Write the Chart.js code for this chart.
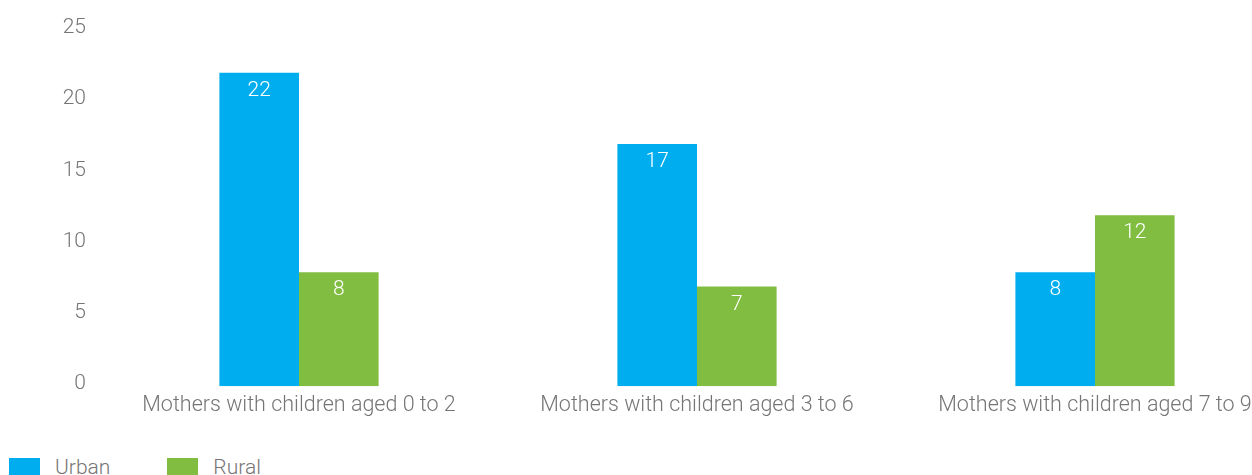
<!DOCTYPE html>
<html>
<head>
<meta charset="utf-8">
<script src="https://cdn.jsdelivr.net/npm/chart.js@4"></script>
<style>
    html, body { margin: 0; padding: 0; background: #fff; }
    #wrap { position: relative; width: 1252px; height: 475px; overflow: hidden; }
    #box { position: absolute; left: 0; top: 0; width: 1294px; height: 426px; }
    #legend { position: absolute; left: 9px; top: 457px; display: flex; font-family: Roboto, sans-serif; font-weight: 300; font-size: 21px; color: #757575; }
    #legend .item { display: flex; align-items: flex-start; margin-right: 57px; }
    #legend .swatch { width: 31px; height: 18px; margin-right: 15px; margin-top: 1px; }
    #legend .label { line-height: 20px; }
</style>
</head>
<body>
<div id="wrap">
    <div id="box"><canvas id="mainChart"></canvas></div>
    <div id="legend"></div>
</div>
<script>
// Chart data
const categories = [
    'Mothers with children aged 0 to 2',
    'Mothers with children aged 3 to 6',
    'Mothers with children aged 7 to 9'
];
const urbanValues = [22, 17, 8];
const ruralValues = [8, 7, 12];
const yTicks = [0, 5, 10, 15, 20, 25];

const BLUE = '#00AEEF';
const GREEN = '#80BD41';
const GREY = '#757575';

// draws the value inside the top of each bar
const barValues = {
    id: 'barValues',
    afterDatasetsDraw(chart) {
        const ctx = chart.ctx;
        ctx.save();
        ctx.fillStyle = '#fff';
        ctx.font = '300 21px Roboto';
        ctx.textAlign = 'center';
        ctx.textBaseline = 'middle';
        chart.data.datasets.forEach((ds, i) => {
            chart.getDatasetMeta(i).data.forEach((bar, j) => {
                ctx.fillText(String(ds.data[j]), bar.x, bar.y + 18);
            });
        });
        ctx.restore();
    }
};

const chart = new Chart(document.getElementById('mainChart'), {
    type: 'bar',
    data: {
        labels: categories,
        datasets: [
            { label: 'Urban', data: urbanValues, backgroundColor: BLUE },
            { label: 'Rural', data: ruralValues, backgroundColor: GREEN }
        ]
    },
    options: {
        responsive: true,
        maintainAspectRatio: false,
        animation: false,
        layout: { padding: { top: 30, left: 0, right: 0, bottom: 0 } },
        datasets: {
            bar: { categoryPercentage: 0.4, barPercentage: 1.0 }
        },
        plugins: {
            legend: { display: false },
            tooltip: { enabled: false }
        },
        scales: {
            x: {
                grid: { display: false, drawTicks: false },
                border: { display: false },
                ticks: {
                    color: GREY,
                    padding: 7,
                    font: { family: 'Roboto', weight: 300, size: 21.5 }
                }
            },
            y: {
                min: 0,
                max: 25,
                afterFit: s => { s.width = 100; },
                afterBuildTicks: s => { s.ticks = yTicks.map(v => ({ value: v })); },
                grid: { display: false, drawTicks: false },
                border: { display: false },
                ticks: {
                    color: GREY,
                    padding: 14,
                    labelOffset: -2,
                    font: { family: 'Roboto', weight: 300, size: 21 }
                }
            }
        }
    },
    plugins: [barValues]
});

// legend built from the dataset labels and colours
const legendEl = document.getElementById('legend');
chart.data.datasets.forEach(ds => {
    const item = document.createElement('div');
    item.className = 'item';
    const sw = document.createElement('div');
    sw.className = 'swatch';
    sw.style.background = ds.backgroundColor;
    const lb = document.createElement('div');
    lb.className = 'label';
    lb.textContent = ds.label;
    item.appendChild(sw);
    item.appendChild(lb);
    legendEl.appendChild(item);
});
</script>
</body>
</html>
